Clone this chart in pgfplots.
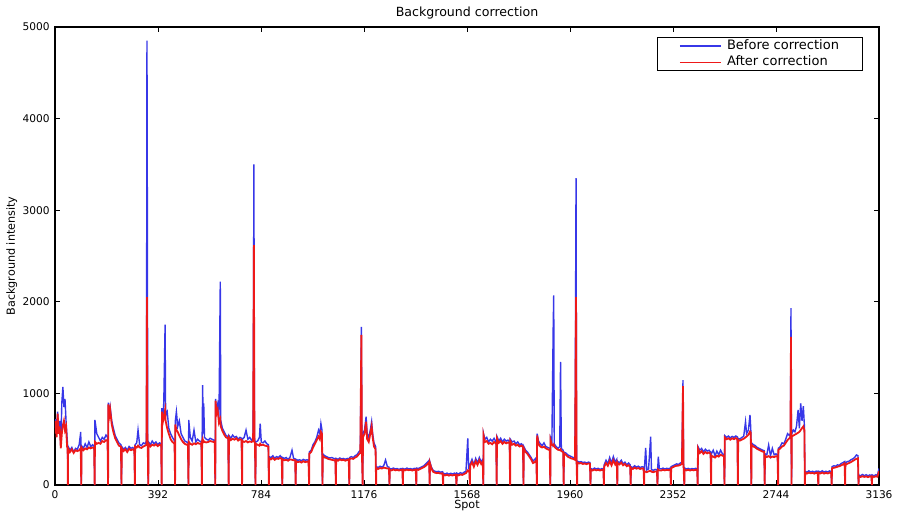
\documentclass[border=0pt]{standalone}
\usepackage{fontspec}
\setmainfont{DejaVu Sans}
\usepackage{pgfplots}
\usepackage{pgfplotstable}
\pgfplotsset{compat=1.18}
\definecolor{bblue}{RGB}{55,55,232}
\definecolor{rred}{RGB}{238,25,25}
\pgfplotstableread[row sep=\\]{
x b a\\
0 620 560\\ 3 720 700\\ 6 560 520\\ 10 800 780\\ 14 600 560\\ 18 700 640\\ 22 420 400\\ 26 900 560\\ 30 1070 650\\ 34 850 700\\ 38 940 600\\ 42 700 640\\ 46 520 420\\ 48 430 400\\ 49 0 0\\
50 420 400\\ 57 380 360\\ 64 410 390\\ 71 360 350\\ 78 400 380\\ 85 390 370\\ 92 440 380\\ 98 580 400\\ 100 0 0\\
101 430 410\\ 108 400 380\\ 115 450 400\\ 122 410 390\\ 129 470 410\\ 136 420 400\\ 143 440 410\\ 149 420 400\\ 151 0 0\\
152 710 470\\ 159 560 450\\ 166 520 460\\ 173 480 450\\ 180 520 480\\ 187 500 470\\ 194 545 490\\ 200 520 480\\ 202 0 0\\
203 900 880\\ 206 760 740\\ 210 850 820\\ 216 700 660\\ 222 620 580\\ 229 540 510\\ 236 500 470\\ 243 460 430\\ 251 440 418\\ 253 0 0\\
254 420 400\\ 261 390 370\\ 268 410 390\\ 275 380 360\\ 282 420 395\\ 289 400 380\\ 296 410 390\\ 302 390 375\\ 304 0 0\\
305 440 420\\ 311 460 410\\ 316 600 430\\ 322 440 410\\ 329 430 405\\ 336 460 420\\ 343 450 430\\ 348 480 440\\ 350 4850 2050\\ 351 3700 600\\ 353 460 420\\ 355 0 0\\
356 470 450\\ 363 440 420\\ 370 480 440\\ 377 450 430\\ 384 470 445\\ 391 440 425\\ 398 460 440\\ 404 450 430\\ 406 0 0\\
407 840 800\\ 410 700 680\\ 414 900 740\\ 419 1750 820\\ 421 760 700\\ 427 800 620\\ 433 620 560\\ 440 560 500\\ 447 520 470\\ 455 480 450\\ 457 0 0\\
458 700 660\\ 462 800 600\\ 467 640 580\\ 473 700 540\\ 480 560 500\\ 487 520 470\\ 494 480 450\\ 501 470 440\\ 506 460 445\\ 508 0 0\\
509 710 470\\ 515 520 450\\ 522 480 440\\ 529 600 455\\ 536 470 445\\ 543 500 460\\ 550 480 450\\ 557 470 455\\ 559 0 0\\
560 520 480\\ 562 1090 500\\ 564 560 470\\ 566 890 480\\ 569 520 470\\ 576 500 465\\ 583 490 470\\ 590 510 480\\ 597 500 475\\ 604 490 470\\ 608 480 475\\ 610 0 0\\
611 940 920\\ 615 820 780\\ 619 880 820\\ 624 720 680\\ 629 2220 720\\ 631 700 640\\ 637 620 590\\ 644 580 550\\ 651 540 520\\ 659 530 510\\ 661 0 0\\
662 540 520\\ 669 510 490\\ 676 545 505\\ 683 520 495\\ 690 530 510\\ 697 500 485\\ 704 520 500\\ 710 510 495\\ 712 0 0\\
713 500 480\\ 720 520 470\\ 727 600 480\\ 734 500 465\\ 741 520 475\\ 748 490 470\\ 754 510 480\\ 757 3500 2620\\ 759 520 470\\ 761 480 460\\ 763 0 0\\
764 470 450\\ 771 480 440\\ 778 520 430\\ 781 670 450\\ 785 470 435\\ 792 460 440\\ 799 480 430\\ 806 450 425\\ 812 440 420\\ 814 0 0\\
815 310 290\\ 822 300 280\\ 829 320 295\\ 836 290 275\\ 843 310 290\\ 850 300 285\\ 857 320 295\\ 863 300 285\\ 865 0 0\\
866 300 280\\ 873 290 270\\ 880 300 275\\ 887 280 265\\ 894 300 280\\ 902 380 275\\ 908 290 270\\ 914 285 270\\ 916 0 0\\
917 280 260\\ 924 270 250\\ 931 275 255\\ 938 265 245\\ 945 280 260\\ 952 270 250\\ 959 275 255\\ 965 270 255\\ 967 0 0\\
968 360 340\\ 975 380 360\\ 982 440 410\\ 989 470 450\\ 996 520 490\\ 1003 600 530\\ 1008 560 500\\ 1012 670 580\\ 1016 600 560\\ 1018 0 0\\
1019 340 320\\ 1026 320 300\\ 1033 310 295\\ 1040 300 285\\ 1047 295 280\\ 1054 300 275\\ 1061 290 270\\ 1067 285 270\\ 1069 0 0\\
1070 290 275\\ 1077 280 265\\ 1084 295 280\\ 1091 285 270\\ 1098 290 275\\ 1105 280 265\\ 1112 290 275\\ 1118 285 270\\ 1120 0 0\\
1121 300 285\\ 1128 310 290\\ 1135 300 285\\ 1142 320 300\\ 1149 330 310\\ 1156 360 335\\ 1162 380 350\\ 1166 1725 1638\\ 1168 400 360\\ 1171 0 0\\
1172 560 520\\ 1178 600 560\\ 1184 746 690\\ 1188 560 500\\ 1194 520 470\\ 1200 600 560\\ 1205 691 640\\ 1209 560 520\\ 1214 460 420\\ 1220 420 390\\ 1222 0 0\\
1223 200 185\\ 1230 190 175\\ 1237 205 185\\ 1244 195 180\\ 1251 210 190\\ 1258 273 185\\ 1265 200 180\\ 1271 195 180\\ 1273 0 0\\
1274 180 165\\ 1281 175 160\\ 1288 185 170\\ 1295 175 160\\ 1302 180 165\\ 1309 170 158\\ 1316 180 165\\ 1322 175 162\\ 1324 0 0\\
1325 180 168\\ 1332 172 160\\ 1339 185 168\\ 1346 175 162\\ 1353 180 166\\ 1360 172 158\\ 1367 182 166\\ 1373 176 163\\ 1375 0 0\\
1376 185 170\\ 1383 180 165\\ 1390 190 175\\ 1397 200 185\\ 1404 210 195\\ 1411 230 210\\ 1418 250 230\\ 1424 270 250\\ 1426 0 0\\
1427 250 235\\ 1432 200 185\\ 1439 160 145\\ 1446 150 135\\ 1453 145 130\\ 1460 150 132\\ 1467 140 125\\ 1475 145 128\\ 1477 0 0\\
1478 130 115\\ 1485 120 105\\ 1492 130 112\\ 1499 118 102\\ 1506 128 110\\ 1513 120 104\\ 1520 130 112\\ 1526 122 108\\ 1528 0 0\\
1529 130 112\\ 1536 120 105\\ 1543 135 115\\ 1550 125 110\\ 1557 140 120\\ 1564 150 130\\ 1571 510 160\\ 1574 180 150\\ 1577 170 155\\ 1579 0 0\\
1580 230 210\\ 1587 280 250\\ 1594 220 200\\ 1601 290 260\\ 1608 240 220\\ 1615 300 270\\ 1622 250 230\\ 1628 280 255\\ 1630 0 0\\
1631 560 540\\ 1636 500 470\\ 1643 520 480\\ 1650 470 450\\ 1657 500 460\\ 1664 480 445\\ 1671 510 470\\ 1679 470 450\\ 1681 0 0\\
1682 530 510\\ 1689 480 460\\ 1696 510 480\\ 1703 470 450\\ 1710 500 470\\ 1717 480 455\\ 1724 490 465\\ 1730 470 455\\ 1732 0 0\\
1733 500 480\\ 1740 470 440\\ 1747 480 450\\ 1754 450 430\\ 1761 470 440\\ 1768 440 420\\ 1775 450 430\\ 1781 430 415\\ 1783 0 0\\
1784 420 400\\ 1791 380 360\\ 1798 360 340\\ 1805 330 310\\ 1812 300 280\\ 1819 260 240\\ 1826 280 250\\ 1832 300 270\\ 1834 0 0\\
1835 560 540\\ 1840 480 450\\ 1847 450 420\\ 1854 430 410\\ 1861 460 420\\ 1868 420 400\\ 1875 410 390\\ 1883 400 380\\ 1885 0 0\\
1886 510 490\\ 1891 460 440\\ 1896 1714 430\\ 1898 2070 440\\ 1900 450 420\\ 1907 420 400\\ 1914 400 385\\ 1921 420 380\\ 1924 1343 390\\ 1927 400 370\\ 1934 380 360\\ 1936 0 0\\
1937 360 346\\ 1944 350 330\\ 1951 330 310\\ 1958 320 300\\ 1965 310 290\\ 1972 300 285\\ 1979 295 275\\ 1983 3350 2050\\ 1985 290 270\\ 1987 0 0\\
1988 260 245\\ 1995 250 235\\ 2002 255 240\\ 2009 245 230\\ 2016 250 235\\ 2023 240 228\\ 2030 250 235\\ 2036 245 232\\ 2038 0 0\\
2039 180 165\\ 2046 170 158\\ 2053 185 168\\ 2060 175 160\\ 2067 182 166\\ 2074 170 158\\ 2081 180 165\\ 2087 175 162\\ 2089 0 0\\
2090 220 200\\ 2097 270 240\\ 2104 230 210\\ 2111 300 260\\ 2118 240 215\\ 2125 310 270\\ 2132 250 225\\ 2138 280 250\\ 2140 0 0\\
2141 260 240\\ 2148 240 225\\ 2155 270 245\\ 2162 230 215\\ 2169 250 230\\ 2176 220 205\\ 2183 240 215\\ 2189 220 200\\ 2191 0 0\\
2192 200 185\\ 2199 190 175\\ 2206 210 190\\ 2213 195 178\\ 2220 205 185\\ 2227 190 175\\ 2234 200 182\\ 2240 195 180\\ 2242 0 0\\
2243 170 150\\ 2248 404 145\\ 2252 165 140\\ 2259 175 150\\ 2267 527 155\\ 2270 170 145\\ 2277 160 140\\ 2284 170 148\\ 2291 165 145\\ 2293 0 0\\
2294 190 170\\ 2296 310 165\\ 2300 180 160\\ 2307 175 158\\ 2314 185 166\\ 2321 175 160\\ 2328 182 165\\ 2335 178 162\\ 2342 185 168\\ 2344 0 0\\
2345 200 185\\ 2352 210 195\\ 2359 220 205\\ 2366 230 210\\ 2373 225 212\\ 2380 240 220\\ 2386 250 230\\ 2390 1146 1080\\ 2392 240 225\\ 2395 0 0\\
2396 185 168\\ 2403 175 160\\ 2410 182 166\\ 2417 172 158\\ 2424 180 165\\ 2431 175 160\\ 2438 182 166\\ 2444 176 162\\ 2446 0 0\\
2447 420 400\\ 2454 380 350\\ 2461 400 370\\ 2468 360 340\\ 2475 390 360\\ 2482 370 345\\ 2489 380 355\\ 2495 360 340\\ 2497 0 0\\
2498 340 320\\ 2505 380 310\\ 2512 320 300\\ 2519 370 320\\ 2526 330 310\\ 2533 380 330\\ 2540 340 320\\ 2546 330 315\\ 2548 0 0\\
2549 540 520\\ 2556 520 500\\ 2563 535 510\\ 2570 515 495\\ 2577 530 510\\ 2584 520 500\\ 2591 535 512\\ 2597 525 505\\ 2599 0 0\\
2600 510 490\\ 2607 500 485\\ 2614 520 495\\ 2621 530 505\\ 2628 691 520\\ 2632 560 530\\ 2639 600 550\\ 2645 764 582\\ 2648 620 570\\ 2650 0 0\\
2651 460 440\\ 2658 440 420\\ 2665 430 410\\ 2672 410 395\\ 2679 400 385\\ 2686 390 375\\ 2693 380 365\\ 2699 375 362\\ 2701 0 0\\
2702 340 320\\ 2709 330 305\\ 2716 436 315\\ 2723 320 300\\ 2730 400 310\\ 2737 330 305\\ 2744 340 315\\ 2750 325 308\\ 2752 0 0\\
2753 400 382\\ 2760 420 400\\ 2767 460 420\\ 2774 450 430\\ 2781 500 460\\ 2788 560 490\\ 2795 540 510\\ 2799 564 528\\ 2801 1932 1616\\ 2803 0 0\\
2804 560 530\\ 2810 600 540\\ 2816 580 550\\ 2822 640 560\\ 2828 819 570\\ 2833 620 580\\ 2838 892 600\\ 2843 700 620\\ 2848 860 640\\ 2852 650 600\\ 2854 0 0\\
2855 150 135\\ 2862 140 125\\ 2869 155 135\\ 2876 142 128\\ 2883 150 132\\ 2890 140 124\\ 2897 152 134\\ 2903 145 128\\ 2905 0 0\\
2906 150 134\\ 2913 142 126\\ 2920 155 136\\ 2927 140 125\\ 2934 150 132\\ 2941 142 126\\ 2948 154 135\\ 2954 146 130\\ 2956 0 0\\
2957 200 182\\ 2964 210 188\\ 2971 205 192\\ 2978 220 200\\ 2985 215 205\\ 2992 235 215\\ 2999 245 225\\ 3005 255 237\\ 3007 0 0\\
3008 240 219\\ 3015 255 232\\ 3022 260 240\\ 3029 275 250\\ 3036 285 262\\ 3043 300 275\\ 3050 328 285\\ 3056 320 291\\ 3058 0 0\\
3059 110 95\\ 3066 100 88\\ 3073 115 96\\ 3080 102 88\\ 3087 112 94\\ 3094 100 86\\ 3101 110 93\\ 3107 104 90\\ 3109 0 0\\
3110 110 95\\ 3117 100 88\\ 3124 112 95\\ 3130 105 90\\ 3136 180 150\\
}\bgdata
\begin{document}
\begin{tikzpicture}
\path[use as bounding box] (-27.5pt,-14.5pt) rectangle (421.5pt,242.5pt);
\begin{axis}[
  scale only axis, width=412pt, height=229pt,
  at={(0pt,0pt)}, anchor=south west,
  xmin=0, xmax=3136, ymin=0, ymax=5000,
  xtick={0,392,784,1176,1568,1960,2352,2744,3136},
  ytick={0,1000,2000,3000,4000,5000},
  tick align=inside, major tick length=2.5pt,
  tick style={black, line width=0.4pt},
  axis line style={line width=0.6pt},
  /pgf/number format/assume math mode=true,
  /pgf/number format/1000 sep={},
  ticklabel style={font=\fontsize{5.3}{6}\selectfont, inner sep=0pt},
  xticklabel style={anchor=base, yshift=-6.5pt},
  yticklabel style={anchor=east, xshift=-2.5pt},
  every axis title shift=0pt,
  title={Background correction},
  title style={font=\fontsize{6.3}{7}\selectfont, at={(axis description cs:0.5,1)}, anchor=base, yshift=5.2pt, inner sep=0pt},
  xlabel={Spot},
  xlabel style={font=\fontsize{5.6}{6.5}\selectfont, at={(axis description cs:0.5,0)}, anchor=base, yshift=-11.5pt, inner sep=0pt},
  ylabel={Background intensity},
  ylabel style={font=\fontsize{5.6}{6.5}\selectfont, at={(axis description cs:-0.0525,0.5)}, anchor=center, inner sep=0pt},
  legend cell align=left,
  legend image code/.code={\draw[#1, line width=0.6pt] (0pt,0pt) -- (20.5pt,0pt);},
  legend style={at={(0.9806,0.9782)}, anchor=north east, draw=black,
    font=\fontsize{6.5}{7.5}\selectfont, inner xsep=11pt, inner ysep=0.3pt,
    row sep=0pt, column sep=2pt, nodes={inner sep=0.8pt}},
]
\addplot[bblue, line width=0.7pt] table[x=x, y=b] {\bgdata};
\addlegendentry{Before correction}
\addplot[rred, line width=0.9pt] table[x=x, y=a] {\bgdata};
\addlegendentry{After correction}
\end{axis}
\end{tikzpicture}
\end{document}
